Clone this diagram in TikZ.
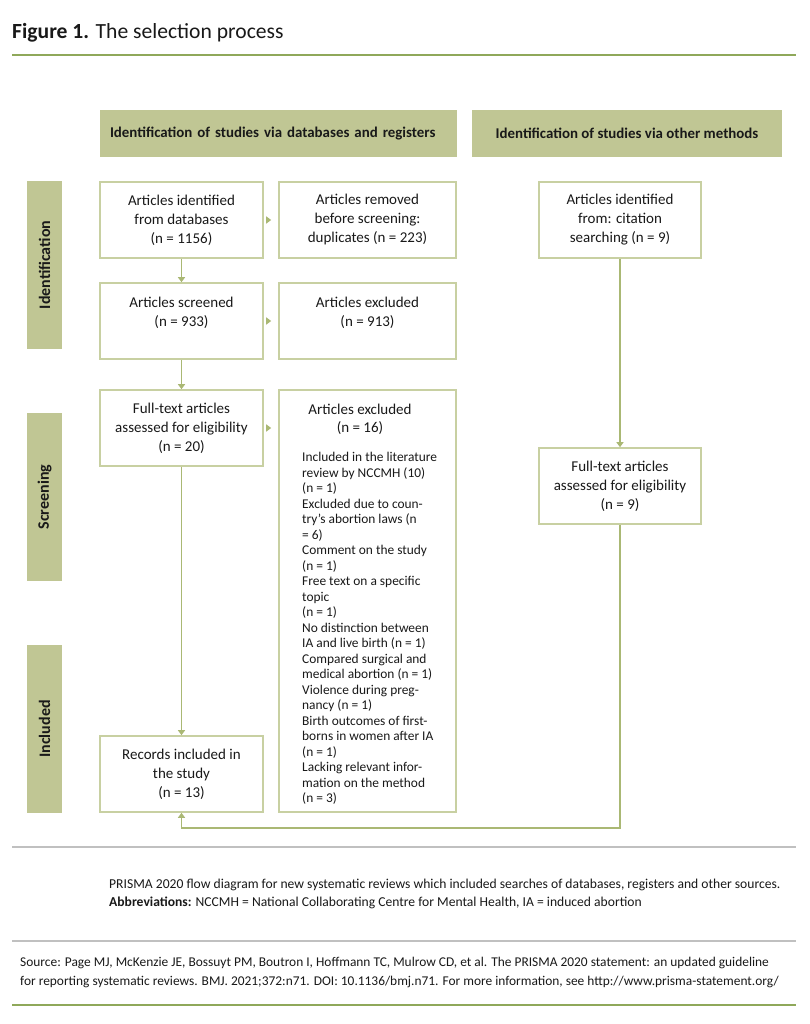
\documentclass[tikz,border=0pt]{standalone}
\usepackage{fontspec}
\setmainfont{Carlito}
\usetikzlibrary{arrows.meta}
\definecolor{hdrfill}{RGB}{192,198,148}
\definecolor{boxline}{RGB}{200,208,162}
\definecolor{arrowc}{RGB}{170,184,116}
\definecolor{rulegreen}{RGB}{143,168,90}
\definecolor{rulegrey}{RGB}{192,192,192}
\definecolor{txt}{RGB}{25,25,25}
\tikzset{
  box/.style={draw=boxline, line width=1.6pt, fill=white, minimum height=76pt,
    align=center, inner sep=0pt, text=txt, font=\fontsize{15}{19}\selectfont},
  hdr/.style={fill=hdrfill, minimum height=47pt, inner sep=0pt, text=txt,
    font=\fontsize{14.9}{18}\selectfont\bfseries},
  side/.style={fill=hdrfill, rotate=90, minimum width=168pt, minimum height=35pt,
    inner sep=0pt, text=txt, font=\fontsize{16}{18}\selectfont\bfseries},
  arr/.style={draw=arrowc, line width=1.5pt, -{Triangle[width=7pt,length=5pt]}},
  harr/.style={arr, shorten <=3pt, shorten >=7pt},
  plain/.style={inner sep=0pt, text=txt}
}
\begin{document}
\begin{tikzpicture}[x=1pt,y=-1pt]
\useasboundingbox (0,0) rectangle (809,1024);
\fill[white] (0,0) rectangle (809,1024);

% title
\node[plain, anchor=base west, font=\fontsize{21.6}{24}\selectfont] (title) at (12,39) {\textbf{Figure 1.} The selection process};
\draw[rulegreen, line width=2.5pt] (12,55) -- (796,55);

% headers
\node[hdr, minimum width=357pt, text width=337pt, align=left] (h1) at (278.5,133.5) {Identification of studies via databases and registers};
\node[hdr, minimum width=310pt] (h2) at (627,133.5) {Identification of studies via other methods};

% side bars
\node[side] (s1) at (44.5,265) {Identification};
\node[side] (s2) at (44.5,497) {Screening};
\node[side] (s3) at (44.5,729) {Included};

% boxes
\node[box, minimum width=163pt] (a1) at (181.5,220) {Articles identified\\from databases\\(n = 1156)};
\node[box, minimum width=177pt] (a2) at (367.5,220) {Articles removed\\before screening:\\duplicates (n = 223)};
\node[box, minimum width=163pt] (b1) at (181.5,321) {Articles screened\\(n = 933)\\\mbox{}};
\node[box, minimum width=177pt] (b2) at (367.5,321) {Articles excluded\\(n = 913)\\\mbox{}};
\node[box, minimum width=163pt] (c1) at (181.5,428) {Full-text articles\\assessed for eligibility\\(n = 20)};
\node[box, minimum width=177pt, minimum height=422pt] (c2) at (367.5,601) {};
\node[plain, align=center, font=\fontsize{15}{18}\selectfont] (c2h) at (360,419) {Articles excluded\\(n = 16)};
\node[plain, anchor=north west, align=left, font=\fontsize{13.4}{15.5}\selectfont] (c2l) at (302,452) {Included in the literature\\review by NCCMH (10)\\(n = 1)\\Excluded due to coun-\\try’s abortion laws (n\\= 6)\\Comment on the study\\(n = 1)\\Free text on a specific\\topic\\(n = 1)\\No distinction between\\IA and live birth (n = 1)\\Compared surgical and\\medical abortion (n = 1)\\Violence during preg-\\nancy (n = 1)\\Birth outcomes of first-\\borns in women after IA\\(n = 1)\\Lacking relevant infor-\\mation on the method\\(n = 3)};
\node[box, minimum width=163pt] (d1) at (181.5,774) {Records included in\\the study\\(n = 13)};
\node[box, minimum width=162pt] (r1) at (620,220) {Articles identified\\from: citation\\searching (n = 9)};
\node[box, minimum width=162pt] (r2) at (620,486) {Full-text articles\\assessed for eligibility\\(n = 9)};

% connectors
\draw[harr] (a1.east) -- (a2.west);
\draw[harr] (b1.east) -- (b2.west);
\draw[harr] (c1.east) -- (c1.east -| c2.west);
\draw[arr] (a1) -- (b1);
\draw[arr] (b1) -- (c1);
\draw[arr] (c1) -- (d1);
\draw[arr] (r1) -- (r2);
\coordinate (lp) at (620,828);
\draw[arr] (r2.south) -- (lp) -| (d1.south);

% footer
\draw[rulegrey, line width=1.5pt] (12,847) -- (796,847);
\node[plain, anchor=base west, font=\fontsize{13.6}{15}\selectfont] (f1) at (109,888) {PRISMA 2020 flow diagram for new systematic reviews which included searches of databases, registers and other sources.};
\node[plain, anchor=base west, font=\fontsize{13.6}{15}\selectfont] (f2) at (109,906) {\textbf{Abbreviations:} NCCMH = National Collaborating Centre for Mental Health, IA = induced abortion};
\draw[rulegrey, line width=1.5pt] (12,941) -- (796,941);
\node[plain, anchor=base west, font=\fontsize{13.4}{15}\selectfont] (src1) at (20,966) {Source: Page MJ, McKenzie JE, Bossuyt PM, Boutron I, Hoffmann TC, Mulrow CD, et al. The PRISMA 2020 statement: an updated guideline};
\node[plain, anchor=base west, font=\fontsize{13.4}{15}\selectfont] (src2) at (20,985) {for reporting systematic reviews. BMJ. 2021;372:n71. DOI: 10.1136/bmj.n71. For more information, see http://www.prisma-statement.org/};
\draw[rulegreen, line width=2.5pt] (12,1005) -- (796,1005);
\end{tikzpicture}
\end{document}
